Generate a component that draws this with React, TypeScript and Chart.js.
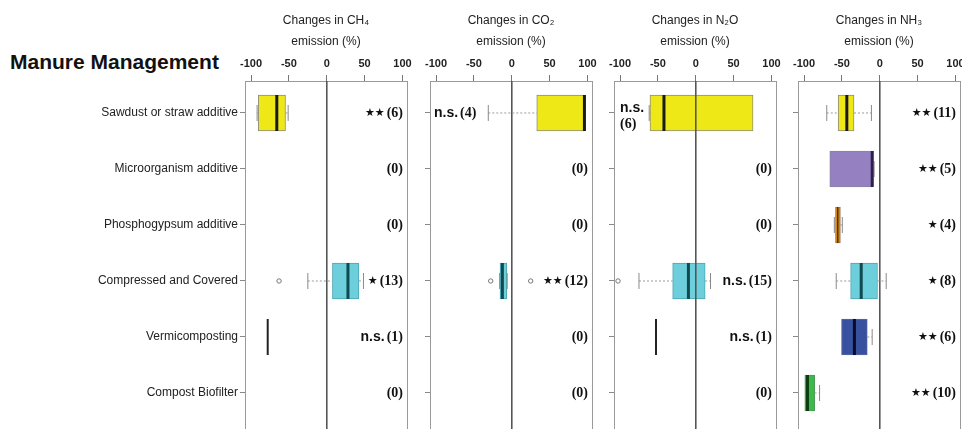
import React, { useEffect, useRef } from 'react';
import { Chart, registerables } from 'chart.js';

Chart.register(...registerables);

// ---------- data ----------
const categories = [
  'Sawdust or straw additive',
  'Microorganism additive',
  'Phosphogypsum additive',
  'Compressed and Covered',
  'Vermicomposting',
  'Compost Biofilter',
];
const xTickValues = [-100, -50, 0, 50, 100];

const ch4Title = ['Changes in CH₄', 'emission (%)'];
const co2Title = ['Changes in CO₂', 'emission (%)'];
const n2oTitle = ['Changes in N₂O', 'emission (%)'];
const nh3Title = ['Changes in NH₃', 'emission (%)'];

// [min, Q1, median, Q3, max] per category; [value] for a single study; null when none
type Stat = number[] | null;
const ch4Stats: Stat[] = [
  [-92, -90.5, -66, -54.5, -51],
  null,
  null,
  [-25, 7.5, 28, 42.5, 48.5],
  [-78],
  null,
];
const ch4Outliers = [[3, -63]];
const ch4Notes = [['**', '(6)'], ['', '(0)'], ['', '(0)'], ['*', '(13)'], ['n.s.', '(1)'], ['', '(0)']];

const co2Stats: Stat[] = [
  [-31, 33, 96, 97, 97],
  null,
  null,
  [-16, -15.5, -12.4, -6.6, -6],
  null,
  null,
];
const co2Outliers = [[3, -27.8], [3, 25]];
const co2Notes = [['n.s.', '(4)'], ['', '(0)'], ['', '(0)'], ['**', '(12)'], ['', '(0)'], ['', '(0)']];

const n2oStats: Stat[] = [
  [-61.5, -60.5, -42, 75.7, 75.7],
  null,
  null,
  [-75, -30.5, -9.7, 12.4, 19.5],
  [-52.5],
  null,
];
const n2oOutliers = [[3, -102.7]];
const n2oNotes = [['n.s.', '(6)'], ['', '(0)'], ['', '(0)'], ['n.s.', '(15)'], ['n.s.', '(1)'], ['', '(0)']];

const nh3Stats: Stat[] = [
  [-70, -55, -43.5, -34, -11],
  [-66, -66, -10, -8.5, -7.5],
  [-60, -58.5, -55.5, -52, -49.5],
  [-57.5, -38.5, -24.5, -3, 8.5],
  [-50.5, -50.5, -33.5, -16.5, -10],
  [-99, -99, -95.5, -86, -79.5],
];
const nh3Outliers: number[][] = [];
const nh3Notes = [['**', '(11)'], ['**', '(5)'], ['*', '(4)'], ['*', '(8)'], ['**', '(6)'], ['**', '(10)']];

// ---------- styles ----------
const boxFills = ['#EFE817', '#9581C1', '#D8860F', '#6DCEDC', '#3850A0', '#3DB84A'];
const boxBorders = ['#8e8e80', '#8a82a2', '#9a7a50', '#4ea6b3', '#5a6a9a', '#4a9a55'];
const medianColors = ['#1a1a1a', '#2d1f4f', '#5a3300', '#0f4a50', '#0a0a20', '#0b3d10'];
const medianWidths = [3, 3, 1.5, 3, 3, 3];

const SANS = '"Liberation Sans", Arial, sans-serif';
const SERIF = '"Liberation Serif", "Times New Roman", serif';
const PANEL_LEFTS = [245, 430, 614, 798];
const PANEL_W = 162;
const SIDE_W = 40;
const RIGHT_PAD = 30;
const AXIS_H = 81;
const H = 429;
const EXTRA_BOTTOM = 40;
const X_MIN = -108;
const X_MAX = 106;
const Y_MIN = -0.571;
const Y_MAX = 5.643;

Chart.defaults.font.family = SANS;

type PanelCfg = {
  title: string[];
  stats: Stat[];
  outliers: number[][];
  notes: string[][];
  modes: string[];
  index: number;
};

const panels: PanelCfg[] = [
  { title: ch4Title, stats: ch4Stats, outliers: ch4Outliers, notes: ch4Notes, modes: [], index: 0 },
  { title: co2Title, stats: co2Stats, outliers: co2Outliers, notes: co2Notes, modes: ['left'], index: 1 },
  { title: n2oTitle, stats: n2oStats, outliers: n2oOutliers, notes: n2oNotes, modes: ['left2'], index: 2 },
  { title: nh3Title, stats: nh3Stats, outliers: nh3Outliers, notes: nh3Notes, modes: [], index: 3 },
];

function drawNote(ctx: CanvasRenderingContext2D, sig: string, n: string, x: number, y: number, align: string) {
  const isNs = sig === 'n.s.';
  const sigFont = isNs ? `bold 14px ${SANS}` : '11px "DejaVu Sans", sans-serif';
  const sigText = isNs ? sig : sig.replace(/\*/g, '★');
  const nFont = `bold 14px ${SERIF}`;
  ctx.save();
  ctx.fillStyle = '#111';
  ctx.textBaseline = 'middle';
  ctx.textAlign = 'left';
  ctx.font = sigFont;
  const sw = sigText ? ctx.measureText(sigText).width : 0;
  ctx.font = nFont;
  const nw = n ? ctx.measureText(n).width : 0;
  const gap = sigText && n ? 2 : 0;
  const total = sw + gap + nw;
  const sx = align === 'right' ? x - total : x;
  if (sigText) {
    ctx.font = sigFont;
    ctx.fillText(sigText, sx, isNs ? y : y + 0.5);
  }
  if (n) {
    ctx.font = nFont;
    ctx.fillText(n, sx + sw + gap, y);
  }
  ctx.restore();
}

function makePlugins(cfg: PanelCfg) {
  return [
    {
      id: 'frameRight' + cfg.index,
      afterDatasetsDraw(chart: any) {
        const { ctx, chartArea } = chart;
        ctx.save();
        ctx.strokeStyle = '#9a9a9a';
        ctx.lineWidth = 1;
        const x = Math.round(chartArea.right) + 0.5;
        ctx.beginPath();
        ctx.moveTo(x, chartArea.top);
        ctx.lineTo(x, chartArea.bottom);
        ctx.stroke();
        ctx.restore();
      },
    },
    {
      id: 'notes' + cfg.index,
      afterDatasetsDraw(chart: any) {
        const { ctx, chartArea, scales } = chart;
        cfg.notes.forEach(([sig, n], i) => {
          const y = scales.y.getPixelForValue(i);
          const mode = cfg.modes[i] || 'right';
          if (mode === 'right') {
            drawNote(ctx, sig, n, chartArea.right - 4, y, 'right');
          } else if (mode === 'left') {
            drawNote(ctx, sig, n, chartArea.left + 4, y, 'left');
          } else {
            drawNote(ctx, sig, '', chartArea.left + 6, y - 5, 'left');
            drawNote(ctx, '', n, chartArea.left + 6, y + 11, 'left');
          }
        });
      },
    },
  ];
}

function buildDatasets(cfg: PanelCfg) {
  const bars: any[] = [];
  const barFill: string[] = [];
  const barBorder: string[] = [];
  const whiskers: any[] = [];
  const caps: any[] = [];
  const meds: any[] = [];
  const medColors: string[] = [];
  const medWidths: number[] = [];
  cfg.stats.forEach((s, i) => {
    if (!s) return;
    if (s.length === 1) {
      meds.push({ x: s[0], y: i });
      medColors.push('#222');
      medWidths.push(2);
      return;
    }
    const [mn, q1, md, q3, mx] = s;
    bars.push({ y: i, x: [q1, q3] });
    barFill.push(boxFills[i]);
    barBorder.push(boxBorders[i]);
    if (mn < q1) {
      whiskers.push({ x: mn, y: i }, { x: q1, y: i }, { x: null, y: null });
      caps.push({ x: mn, y: i });
    }
    if (mx > q3) {
      whiskers.push({ x: q3, y: i }, { x: mx, y: i }, { x: null, y: null });
      caps.push({ x: mx, y: i });
    }
    meds.push({ x: md, y: i });
    medColors.push(medianColors[i]);
    medWidths.push(medianWidths[i]);
  });
  const outs = cfg.outliers.map(([r, v]) => ({ x: v, y: r }));
  return [
    {
      type: 'bar',
      indexAxis: 'y',
      data: bars,
      backgroundColor: barFill,
      borderColor: barBorder,
      borderWidth: 1,
      borderSkipped: false,
      barThickness: 36,
      order: 5,
    },
    {
      type: 'line',
      data: [{ x: 0, y: -1 }, { x: 0, y: 7 }],
      borderColor: '#555',
      borderWidth: 1,
      pointRadius: 0,
      order: 4,
    },
    {
      type: 'line',
      data: whiskers,
      borderColor: '#9a9a9a',
      borderWidth: 1,
      borderDash: [2, 2],
      pointRadius: 0,
      spanGaps: false,
      tension: 0,
      order: 3,
    },
    {
      type: 'scatter',
      data: caps,
      pointStyle: 'line',
      pointRotation: 90,
      pointRadius: 8,
      pointBorderWidth: 1,
      pointBorderColor: '#8a8a8a',
      order: 2,
    },
    {
      type: 'scatter',
      data: meds,
      pointStyle: 'line',
      pointRotation: 90,
      pointRadius: 18,
      pointBorderWidth: medWidths,
      pointBorderColor: medColors,
      order: 1,
    },
    {
      type: 'scatter',
      data: outs,
      pointStyle: 'circle',
      pointRadius: 2.2,
      pointBorderWidth: 1,
      pointBorderColor: '#777',
      pointBackgroundColor: '#fff',
      order: 0,
    },
  ];
}

function BoxPanel({ cfg }: { cfg: PanelCfg }) {
  const ref = useRef<HTMLCanvasElement>(null);
  const first = cfg.index === 0;
  const yW = first ? PANEL_LEFTS[0] : SIDE_W;
  const left = first ? 0 : PANEL_LEFTS[cfg.index] - yW;
  const width = yW + PANEL_W + RIGHT_PAD;
  const height = H + EXTRA_BOTTOM;

  useEffect(() => {
    const chart = new Chart(ref.current as HTMLCanvasElement, {
      type: 'scatter',
      data: { datasets: buildDatasets(cfg) as any },
      plugins: makePlugins(cfg) as any,
      options: {
        animation: false,
        responsive: false,
        events: [],
        layout: { padding: { left: 0, right: RIGHT_PAD, top: 0, bottom: EXTRA_BOTTOM } },
        plugins: { legend: { display: false }, tooltip: { enabled: false }, title: { display: false } },
        scales: {
          x: {
            type: 'linear',
            position: 'top',
            min: X_MIN,
            max: X_MAX,
            offset: false,
            afterBuildTicks: (scale: any) => {
              scale.ticks = xTickValues.map((v) => ({ value: v }));
            },
            afterFit: (scale: any) => {
              scale.height = AXIS_H;
            },
            ticks: {
              font: { size: 11, weight: 'bold', family: SANS },
              color: '#222',
              padding: 4,
              maxRotation: 0,
              autoSkip: false,
              callback: (v: any) => String(v),
            },
            grid: {
              display: true,
              offset: false,
              drawOnChartArea: false,
              drawTicks: true,
              tickLength: 6,
              tickColor: '#777',
              color: '#777',
            },
            border: { display: true, color: '#9a9a9a' },
            title: {
              display: true,
              text: cfg.title,
              color: '#222',
              font: { size: 12, family: SANS, lineHeight: '21px' } as any,
              padding: { top: 10.5, bottom: 0 },
            },
          },
          y: {
            type: 'linear',
            reverse: true,
            min: Y_MIN,
            max: Y_MAX,
            offset: false,
            afterBuildTicks: (scale: any) => {
              scale.ticks = categories.map((_, i) => ({ value: i }));
            },
            afterFit: (scale: any) => {
              scale.width = yW;
            },
            ticks: {
              display: true,
              autoSkip: false,
              padding: 2,
              color: '#222',
              font: { size: 12, family: SANS },
              callback: (v: any) => (first ? categories[v] ?? '' : ''),
            },
            grid: {
              display: true,
              offset: false,
              drawOnChartArea: false,
              drawTicks: true,
              tickLength: 5,
              tickColor: '#888',
              color: '#888',
            },
            border: { display: true, color: '#9a9a9a' },
          },
        },
      } as any,
    });
    return () => chart.destroy();
  }, []);

  return (
    <canvas
      ref={ref}
      width={width}
      height={height}
      style={{ position: 'absolute', left, top: 0, width, height }}
    />
  );
}

export default function App() {
  return (
    <div
      style={{
        position: 'fixed',
        left: 0,
        top: 0,
        width: 962,
        height: H,
        overflow: 'hidden',
        background: '#fff',
      }}
    >
      <div
        style={{
          position: 'absolute',
          left: 10,
          top: 50,
          font: `bold 21px ${SANS}`,
          lineHeight: '24px',
          color: '#111',
          whiteSpace: 'nowrap',
        }}
      >
        Manure Management
      </div>
      {panels.map((p) => (
        <BoxPanel key={p.index} cfg={p} />
      ))}
    </div>
  );
}
